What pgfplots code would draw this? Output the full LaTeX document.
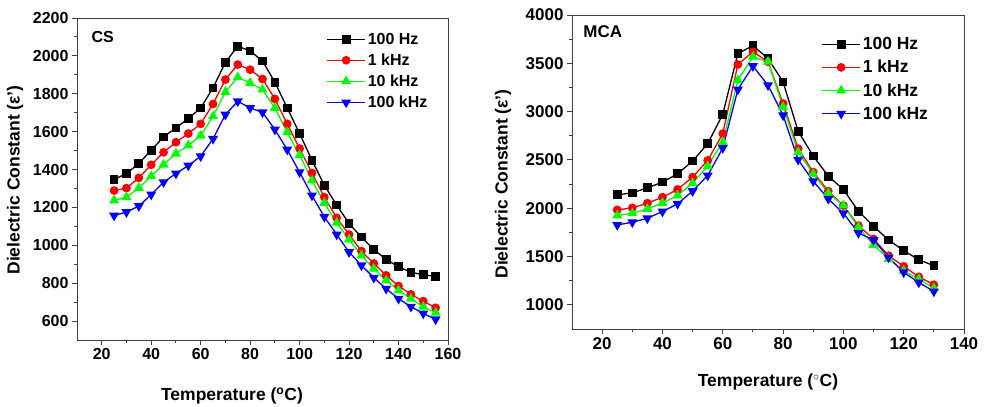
\documentclass[border=0pt]{standalone}
\usepackage{fontspec}
\setmainfont{Liberation Sans}
\usepackage{pgfplots}
\pgfplotsset{compat=1.18}

\pgfplotsset{
  diel/.style={
    scale only axis,
    xmin=10,
    tick align=outside,
    xtick pos=bottom, ytick pos=left,
    minor x tick num=1, minor y tick num=1,
    major tick length=5bp, minor tick length=3bp,
    axis line style={black!75, line width=0.9bp},
    tick style={black!75, line width=0.9bp},
    /pgf/number format/assume math mode=true,
    /pgf/number format/1000 sep={},
    ticklabel style={font=\bfseries\fontsize{16bp}{18bp}\selectfont},
    legend style={draw=none, fill=none, inner sep=0pt, anchor=north west,
      font=\bfseries\fontsize{16bp}{18bp}\selectfont, row sep=4bp},
    legend cell align=left,
    legend image code/.code={\draw[mark repeat=2,mark phase=2] plot coordinates {(0bp,0bp) (19bp,0bp) (38bp,0bp)};},
    every axis plot/.append style={line width=1.3bp, mark size=3.7bp},
  },
  hz100/.style={black, mark=square*},
  khz1/.style={red, mark=*},
  khz10/.style={green, mark=triangle*, mark size=4.5bp},
  khz100/.style={blue, mark=triangle*, mark size=4.5bp, mark options={rotate=180}},
}

\begin{document}
\begin{tikzpicture}
\path[use as bounding box] (-77bp,-67bp) rectangle (907bp,340bp);

\begin{axis}[diel,
  width=371bp, height=322bp,
  xmax=160, ymin=500, ymax=2200,
  xtick={20,40,...,160}, ytick={600,800,...,2200},
  legend style={at={(0.672,0.96)}},
]
\addplot[hz100] coordinates {
 (25,1347) (30,1379) (35,1432) (40,1502) (45,1572) (50,1620) (55,1669) (60,1725)
 (65,1831) (70,1966) (75,2051) (80,2026) (85,1973) (90,1861) (95,1725) (100,1590)
 (105,1449) (110,1317) (115,1212) (120,1115) (125,1043) (130,978) (135,925) (140,887)
 (145,858) (150,844) (155,836)};
\addplot[khz1] coordinates {
 (25,1289) (30,1302) (35,1356) (40,1425) (45,1491) (50,1544) (55,1590) (60,1641)
 (65,1746) (70,1875) (75,1954) (80,1927) (85,1878) (90,1773) (95,1641) (100,1511)
 (105,1382) (110,1254) (115,1145) (120,1057) (125,969) (130,904) (135,841) (140,785)
 (145,741) (150,705) (155,670)};
\addplot[khz10] coordinates {
 (25,1237) (30,1254) (35,1303) (40,1365) (45,1426) (50,1484) (55,1527) (60,1579)
 (65,1681) (70,1810) (75,1887) (80,1857) (85,1822) (90,1725) (95,1597) (100,1476)
 (105,1342) (110,1224) (115,1119) (120,1031) (125,946) (130,876) (135,814) (140,762)
 (145,718) (150,676) (155,644)};
\addplot[khz100] coordinates {
 (25,1157) (30,1175) (35,1207) (40,1268) (45,1333) (50,1379) (55,1421) (60,1470)
 (65,1562) (70,1690) (75,1760) (80,1725) (85,1702) (90,1611) (95,1505) (100,1386)
 (105,1263) (110,1150) (115,1057) (120,964) (125,894) (130,829) (135,771) (140,718)
 (145,676) (150,640) (155,609)};
\legend{100 Hz, 1 kHz, 10 kHz, 100 kHz}
\node[anchor=west, font=\bfseries\fontsize{16bp}{18bp}\selectfont] at (axis description cs:0.03,0.94) {CS};
\end{axis}

\begin{axis}[diel, at={(495bp,11bp)},
  width=392bp, height=314bp,
  xmax=140, ymin=750, ymax=4000,
  xtick={20,40,...,140}, ytick={1000,1500,...,4000},
  ticklabel style={font=\bfseries\fontsize{17bp}{19bp}\selectfont},
  legend style={at={(0.636,0.935)}, font=\bfseries\fontsize{17.5bp}{19bp}\selectfont, row sep=5bp},
]
\addplot[hz100] coordinates {
 (25,2139) (30,2159) (35,2211) (40,2270) (45,2356) (50,2488) (55,2668) (60,2972)
 (65,3602) (70,3682) (75,3550) (80,3308) (85,2796) (90,2540) (95,2332) (100,2194)
 (105,1969) (110,1813) (115,1671) (120,1561) (125,1467) (130,1405)};
\addplot[khz1] coordinates {
 (25,1983) (30,2004) (35,2052) (40,2114) (45,2194) (50,2322) (55,2495) (60,2772)
 (65,3488) (70,3619) (75,3516) (80,3083) (85,2616) (90,2374) (95,2177) (100,2028)
 (105,1820) (110,1682) (115,1509) (120,1398) (125,1291) (130,1208)};
\addplot[khz10] coordinates {
 (25,1924) (30,1948) (35,1993) (40,2055) (45,2132) (50,2260) (55,2436) (60,2685)
 (65,3325) (70,3567) (75,3516) (80,3048) (85,2581) (90,2356) (95,2156) (100,2028)
 (105,1803) (110,1620) (115,1474) (120,1353) (125,1267) (130,1173)};
\addplot[khz100] coordinates {
 (25,1827) (30,1855) (35,1896) (40,1966) (45,2045) (50,2177) (55,2339) (60,2623)
 (65,3228) (70,3471) (75,3273) (80,2962) (85,2502) (90,2280) (95,2097) (100,1948)
 (105,1744) (110,1671) (115,1491) (120,1336) (125,1232) (130,1139)};
\legend{100 Hz, 1 kHz, 10 kHz, 100 kHz}
\node[anchor=west, font=\bfseries\fontsize{17bp}{19bp}\selectfont] at (axis description cs:0.02,0.946) {MCA};
\end{axis}

\node[rotate=90, font=\bfseries\fontsize{17.5bp}{20bp}\selectfont] at (-62bp,160bp) {Dielectric Constant (ε')};
\node[font=\bfseries\fontsize{17.5bp}{20bp}\selectfont] at (155bp,-56bp) {Temperature (\textsuperscript{o}C)};
\node[rotate=90, font=\bfseries\fontsize{17.5bp}{20bp}\selectfont] at (426bp,156bp) {Dielectric Constant (ε')};
\node[font=\bfseries\fontsize{17.5bp}{20bp}\selectfont] at (691bp,-42bp) {Temperature ($^{\circ}$C)};
\end{tikzpicture}
\end{document}
